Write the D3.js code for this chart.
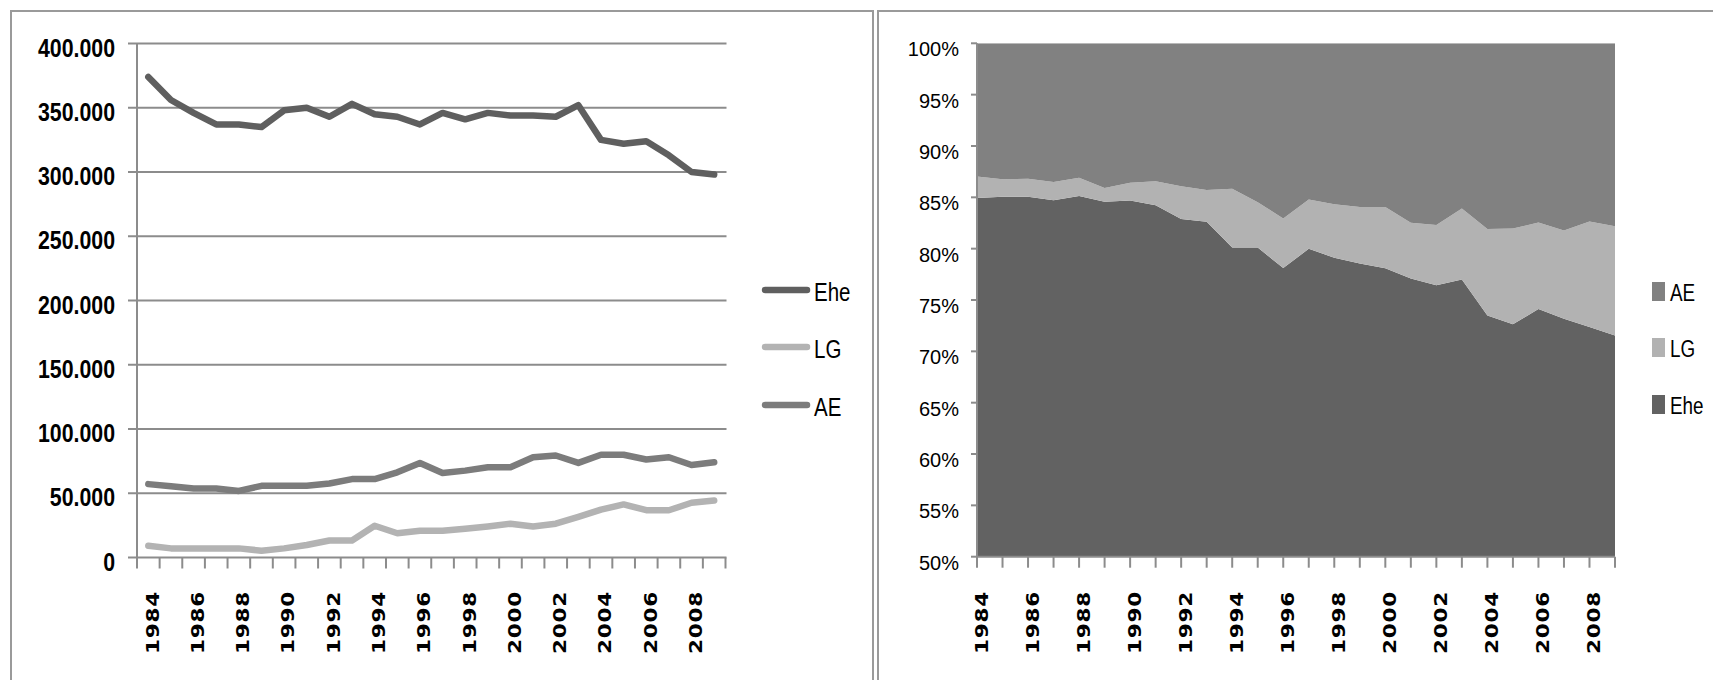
<!DOCTYPE html>
<html>
<head>
<meta charset="utf-8">
<script src="https://cdn.jsdelivr.net/npm/d3@7"></script>
<style>
  html, body { margin: 0; padding: 0; background: #fff; }
  svg { display: block; }
</style>
</head>
<body>
<svg id="chart" width="1713" height="680"></svg>
<script>
// ---------------- DATA ----------------
const years = [1984,1985,1986,1987,1988,1989,1990,1991,1992,1993,1994,1995,1996,1997,1998,1999,2000,2001,2002,2003,2004,2005,2006,2007,2008,2009];
const ehe = [374000,356000,346000,337000,337000,335000,348000,350000,343000,353000,345000,343000,337000,346000,341000,346000,344000,344000,343000,352000,325000,322000,324000,313000,300000,298000];
const lg  = [9200,7100,7100,7100,7100,5300,7100,9700,13200,13200,24700,18900,20800,20800,22400,24200,26300,24200,26300,31600,37300,41300,36800,36800,42600,44400];
const ae  = [57100,55400,53700,53700,51800,55800,55800,55800,57600,61000,61000,66300,73600,65800,67600,70200,70200,78000,79400,73600,80000,80000,76300,78000,72000,74200];
const seriesNames = ["Ehe","LG","AE"];
const seriesColors = {Ehe:"#5f5f5f", LG:"#b3b3b3", AE:"#7c7c7c"};
const areaColors = {Ehe:"#626262", LG:"#b2b2b2", AE:"#818181"};
const leftTicks = [0,50000,100000,150000,200000,250000,300000,350000,400000];
const rightTicks = [0.50,0.55,0.60,0.65,0.70,0.75,0.80,0.85,0.90,0.95,1.00];
const labelYears = years.filter(y => (y - 1984) % 2 === 0 && y <= 2008);

// ---------------- SETUP ----------------
const svg = d3.select("#chart");
const gridCol = "#8c8c8c";
const sans = "'Liberation Sans',Arial,sans-serif";
const wide = "'DejaVu Sans',Verdana,sans-serif";
const de = d3.formatLocale({decimal: ",", thousands: ".", grouping: [3], currency: ["", "€"]});
const fmtNum = de.format(",d");
const fmtPct = d3.format(".0%");
const SQ = 0.82;   // horizontal squeeze to mimic a narrow face
const XS = 1.2;    // stretch of rotated year labels along reading direction

// panel borders
svg.append("rect").attr("x", 11).attr("y", 11).attr("width", 862).attr("height", 700)
  .attr("fill", "none").attr("stroke", "#9a9a9a").attr("stroke-width", 2);
svg.append("rect").attr("x", 878).attr("y", 11).attr("width", 900).attr("height", 700)
  .attr("fill", "none").attr("stroke", "#9a9a9a").attr("stroke-width", 2);

// ---------------- LEFT CHART ----------------
const data = years.map((y, i) => ({year: y, Ehe: ehe[i], LG: lg[i], AE: ae[i]}));
const xL = d3.scaleBand().domain(years).range([137, 725.5]).padding(0);
const yL = d3.scaleLinear().domain([0, 400000]).range([557.5, 43.5]);
const gL = svg.append("g");

gL.selectAll("line.grid").data(leftTicks).join("line")
  .attr("x1", 128).attr("x2", 726.5)
  .attr("y1", d => yL(d)).attr("y2", d => yL(d))
  .attr("stroke", gridCol).attr("stroke-width", 2);
gL.append("line").attr("x1", 137).attr("x2", 137).attr("y1", yL(400000)).attr("y2", yL(0))
  .attr("stroke", gridCol).attr("stroke-width", 2);
const bL = years.map(y => xL(y)).concat([xL(years[years.length-1]) + xL.bandwidth()]);
gL.selectAll("line.xt").data(bL).join("line")
  .attr("x1", d => d).attr("x2", d => d).attr("y1", yL(0)).attr("y2", yL(0) + 11)
  .attr("stroke", gridCol).attr("stroke-width", 2);
gL.selectAll("text.yl").data(leftTicks).join("text")
  .attr("transform", d => `translate(115,${yL(d) + 13}) scale(${SQ},1)`)
  .attr("text-anchor", "end").attr("font-family", sans).attr("font-weight", "bold")
  .attr("font-size", 26).attr("fill", "#000").text(d => fmtNum(d));
gL.selectAll("text.xl").data(labelYears).join("text")
  .attr("transform", d => `translate(${xL(d) + xL.bandwidth()/2 + 4},591) rotate(-90) scale(${XS},1)`)
  .attr("dy", "0.35em").attr("text-anchor", "end")
  .attr("font-family", wide).attr("font-weight", "bold").attr("font-size", 18)
  .attr("letter-spacing", "0.6px")
  .attr("fill", "#000").text(d => d);

["AE","LG","Ehe"].forEach(name => {
  const line = d3.line().x(d => xL(d.year) + xL.bandwidth()/2).y(d => yL(d[name]));
  gL.append("path").datum(data).attr("d", line)
    .attr("fill", "none").attr("stroke", seriesColors[name]).attr("stroke-width", 6.5)
    .attr("stroke-linejoin", "round").attr("stroke-linecap", "round");
});

const legL = [{n:"Ehe", y:290},{n:"LG", y:347},{n:"AE", y:405}];
legL.forEach(d => {
  gL.append("line").attr("x1", 765).attr("x2", 807).attr("y1", d.y).attr("y2", d.y)
    .attr("stroke", seriesColors[d.n]).attr("stroke-width", 6.5).attr("stroke-linecap", "round");
  gL.append("text").attr("transform", `translate(814,${d.y + 11}) scale(${SQ},1)`)
    .attr("font-family", sans).attr("font-size", 25).attr("fill", "#000").text(d.n);
});

// ---------------- RIGHT CHART ----------------
const xR = d3.scalePoint().domain(years).range([977, 1615]);
const yR = d3.scaleLinear().domain([0.5, 1]).range([556.7, 43.3]);
const gR = svg.append("g");
svg.append("clipPath").attr("id", "clipR").append("rect")
  .attr("x", 977).attr("y", 43.3).attr("width", 638).attr("height", 556.7 - 43.3);

const stacked = d3.stack().keys(seriesNames).offset(d3.stackOffsetExpand)(data);
const area = d3.area().x(d => xR(d.data.year)).y0(d => yR(d[0])).y1(d => yR(d[1]));
gR.append("g").attr("clip-path", "url(#clipR)")
  .selectAll("path").data(stacked).join("path")
  .attr("d", area).attr("fill", d => areaColors[d.key]).attr("stroke", "none");

gR.append("line").attr("x1", 977).attr("x2", 977).attr("y1", yR(1)).attr("y2", yR(0.5))
  .attr("stroke", gridCol).attr("stroke-width", 2);
gR.selectAll("line.yt").data(rightTicks).join("line")
  .attr("x1", 971).attr("x2", 977).attr("y1", d => yR(d)).attr("y2", d => yR(d))
  .attr("stroke", gridCol).attr("stroke-width", 2);
gR.selectAll("text.yl").data(rightTicks).join("text")
  .attr("x", 959).attr("y", d => yR(d) + 13)
  .attr("text-anchor", "end").attr("font-family", sans)
  .attr("font-size", 20).attr("fill", "#000").text(d => fmtPct(d));
gR.append("line").attr("x1", 977).attr("x2", 1615).attr("y1", yR(0.5)).attr("y2", yR(0.5))
  .attr("stroke", gridCol).attr("stroke-width", 2);
gR.selectAll("line.xt").data(years).join("line")
  .attr("x1", d => xR(d)).attr("x2", d => xR(d)).attr("y1", yR(0.5)).attr("y2", yR(0.5) + 11)
  .attr("stroke", gridCol).attr("stroke-width", 2);
gR.selectAll("text.xl").data(labelYears).join("text")
  .attr("transform", d => `translate(${xR(d) + 4.5},591) rotate(-90) scale(${XS},1)`)
  .attr("dy", "0.35em").attr("text-anchor", "end")
  .attr("font-family", wide).attr("font-weight", "bold").attr("font-size", 18)
  .attr("letter-spacing", "0.6px")
  .attr("fill", "#000").text(d => d);

const legR = [{n:"AE", y:282},{n:"LG", y:338},{n:"Ehe", y:395}];
legR.forEach(d => {
  gR.append("rect").attr("x", 1652).attr("y", d.y).attr("width", 13).attr("height", 19)
    .attr("fill", areaColors[d.n]);
  gR.append("text").attr("transform", `translate(1670,${d.y + 19}) scale(${SQ},1)`)
    .attr("font-family", sans).attr("font-size", 23).attr("fill", "#000").text(d.n);
});
</script>
</body>
</html>
